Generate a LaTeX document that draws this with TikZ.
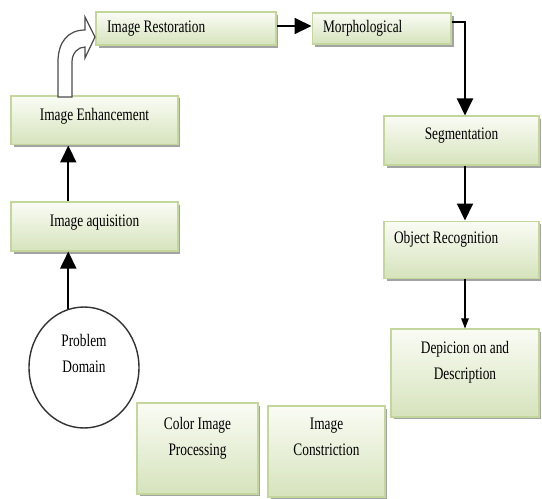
\documentclass[tikz,border=0pt]{standalone}
\usepackage{fontspec}
\setmainfont{Liberation Serif}[FakeStretch=0.76]
\usepackage{tikz}
\usetikzlibrary{shapes.geometric, arrows.meta, positioning, shadows}
\definecolor{boxtop}{RGB}{250,252,245}
\definecolor{boxbot}{RGB}{214,227,188}
\definecolor{boxline}{RGB}{195,214,155}
\begin{document}
\begin{tikzpicture}[
    x=0.02cm, y=-0.02cm,
    stage/.style={rectangle, draw=boxline, line width=0.6pt, top color=boxtop, bottom color=boxbot, drop shadow={shadow xshift=0.05cm, shadow yshift=-0.05cm, fill=black!60, opacity=0.6}, font=\fontsize{10}{14.8}\selectfont, align=center},
    leftstage/.style={stage, align=flush left, inner xsep=0.22cm},
    problemcircle/.style={ellipse, draw=black!80, line width=0.8pt, fill=white, font=\fontsize{10}{14.8}\selectfont, align=center},
    arrow/.style={-{Triangle[length=0.34cm, width=0.32cm]}, line width=1.1pt},
    thinarrow/.style={-{Triangle[length=0.2cm, width=0.15cm]}, line width=0.6pt}
]
    \useasboundingbox (0,0) rectangle (542,498);

    \node[leftstage, minimum width=3.6cm, minimum height=0.66cm, text width=3.16cm] (rest) at (186,28.5) {Image Restoration};
    \node[leftstage, minimum width=2.78cm, minimum height=0.62cm, text width=2.34cm, right=0.7cm of rest] (morph) {Morphological};

    \node[stage, minimum width=3.34cm, minimum height=0.98cm, text depth=0.22cm] (acq) at (94.5,226.5) {Image aquisition};
    \node[stage, minimum width=3.34cm, minimum height=0.98cm, text depth=0.26cm, above=1.12cm of acq] (enh) {Image Enhancement};
    \node[problemcircle, minimum width=2.2cm, minimum height=2.42cm, text depth=0.56cm] (dom) at (84,367.5) {Problem\\Domain};

    \node[stage, minimum width=3.1cm, minimum height=0.98cm, text depth=0.26cm] (seg) at (461.5,140.5) {Segmentation};
    \node[leftstage, minimum width=3.1cm, minimum height=1.14cm, text width=2.7cm, inner xsep=0.2cm, text depth=0.48cm, below=1.1cm of seg] (rec) {Object Recognition};
    \node[stage, minimum width=2.96cm, minimum height=1.76cm, text depth=0.52cm] (dep) at (465,373) {Depicion on and\\Description};

    \node[stage, minimum width=2.42cm, minimum height=1.82cm, text depth=0.5cm] (col) at (197.5,448.5) {Color Image\\Processing};
    \node[stage, minimum width=2.34cm, minimum height=1.82cm, text depth=0.58cm] (con) at (326.5,451.5) {Image\\Constriction};

    \draw[arrow] (dom.105) -- (dom.105 |- acq.south);
    \draw[arrow] (acq.north -| dom.105) -- (enh.south -| dom.105);
    \draw[line width=0.7pt, draw=black!70, fill=white] (58,97) -- (58,62) .. controls (58,42) and (68,30) .. (85,30) -- (85,17) -- (95,37) -- (85,58) -- (85,47) .. controls (78,47) and (72,53) .. (72,62) -- (72,97) -- cycle;
    \draw[arrow] ([yshift=0.05cm]rest.east) -- ([yshift=0.05cm]rest.east -| morph.west);
    \draw[arrow] ([yshift=0.13cm]morph.east) -| ([xshift=0.07cm]seg.north);
    \draw[arrow] ([xshift=0.07cm]seg.south) -- ([xshift=0.07cm]rec.north);
    \draw[thinarrow] (rec.south -| dep.north) -- (dep.north);
\end{tikzpicture}
\end{document}
